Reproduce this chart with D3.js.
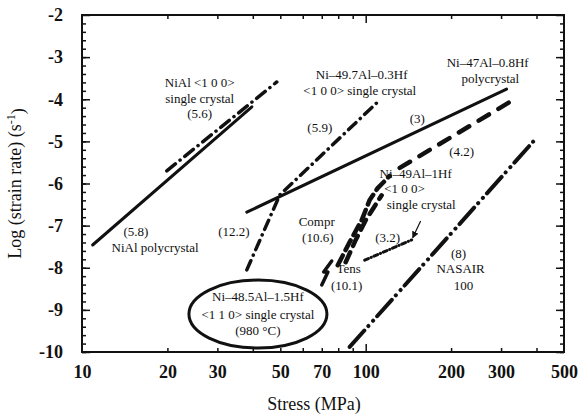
<!DOCTYPE html>
<html>
<head>
<meta charset="utf-8">
<script src="https://cdn.jsdelivr.net/npm/d3@7"></script>
<style>
  body { margin: 0; background: #fff; }
  svg text { fill: #111; }
</style>
</head>
<body>
<div id="chart"></div>
<script>
// tick values
var xTickLabels = [10, 20, 30, 50, 70, 100, 200, 300, 500];
var xMinorTicks = [20, 30, 40, 50, 60, 70, 80, 90, 200, 300, 400];
var xMajorTicks = [100];
var yTickLabels = [-2, -3, -4, -5, -6, -7, -8, -9, -10];

// series: [stress MPa, log strain rate]
var niAlPoly = [[10.9, -7.46], [39.7, -4.18]];
var niAlSingle = [[19.9, -5.70], [48.6, -3.59]];
var ni497Al = [[38.1, -8.05], [49.8, -6.27], [112, -4.02]];
var ni47AlPoly = [[38.1, -6.68], [313.7, -3.76]];
var ni49ComprA = [[79.7, -7.94], [87.8, -7.39], [96.8, -6.87], [103.3, -6.39], [110.2, -6.11], [121.5, -5.82]];
var ni49ComprB = [[85.0, -7.87], [92.2, -7.34], [100, -6.87], [113.8, -6.28]];
var ni49Compr42 = [[131.8, -5.63], [340, -3.97]];
var ni49Tens = [[70.0, -8.41], [73.6, -8.10], [71.1, -8.10], [75.9, -7.84]];
var ni49Single32 = [[99.2, -7.82], [145.2, -7.34]];
var nasair = [[87.8, -9.88], [393.6, -4.97]];

// labels: [stress, log rate, text]
var labels = [
  [26.0, -3.59, "NiAl <1 0 0>"],
  [26.0, -3.97, "single crystal"],
  [26.0, -4.33, "(5.6)"],
  [96.8, -3.40, "Ni\u201349.7Al\u20130.3Hf"],
  [95.3, -3.80, "<1 0 0> single crystal"],
  [68.9, -4.68, "(5.9)"],
  [269, -3.12, "Ni\u201347Al\u20130.8Hf"],
  [275, -3.50, "polycrystal"],
  [152, -4.45, "(3)"],
  [218, -5.25, "(4.2)"],
  [150, -5.75, "Ni\u201349Al\u20131Hf"],
  [137, -6.11, "<1 0 0>"],
  [157, -6.49, "single crystal"],
  [119.5, -7.27, "(3.2)"],
  [67.2, -6.91, "Compr"],
  [67.8, -7.29, "(10.6)"],
  [87.1, -8.01, "Tens"],
  [85.7, -8.41, "(10.1)"],
  [34.3, -7.15, "(12.2)"],
  [15.5, -7.15, "(5.8)"],
  [18.1, -7.51, "NiAl polycrystal"],
  [212.6, -7.65, "(8)"],
  [216, -8.01, "NASAIR"],
  [221, -8.41, "100"],
  [41.7, -8.69, "Ni\u201348.5Al\u20131.5Hf"],
  [41.7, -9.10, "<1 1 0> single crystal"],
  [41.7, -9.48, "(980 \u00B0C)"]
];
var ovalCenter = [41.7, -9.10];
var arrowPts = [[156.2, -6.89], [146.4, -7.29]];

var serif = "'Liberation Serif', 'Times New Roman', Tinos, 'DejaVu Serif', 'Noto Serif', FreeSerif, Times, serif";

var margin = {top: 15, right: 18, bottom: 64, left: 82};
var width = 582 - margin.left - margin.right;
var height = 416 - margin.top - margin.bottom;

var x = d3.scaleLog().domain([10, 500]).range([0, width]);
var y = d3.scaleLinear().domain([-10, -2]).range([height, 0]);

var root = d3.select("#chart").append("svg")
    .attr("width", 582)
    .attr("height", 416)
    .style("font-family", serif);

var svg = root.append("g")
    .attr("transform", "translate(" + margin.left + "," + margin.top + ")");

svg.append("defs").append("marker")
    .attr("id", "arr")
    .attr("viewBox", "0 0 10 10")
    .attr("refX", 9).attr("refY", 5)
    .attr("markerWidth", 7).attr("markerHeight", 7)
    .attr("markerUnits", "userSpaceOnUse")
    .attr("orient", "auto")
  .append("path")
    .attr("d", "M0,0 L10,5 L0,10 z")
    .attr("fill", "#111");

function cleanAxis(g) {
  g.select(".domain").remove();
  g.attr("font-family", null);
  g.selectAll(".tick line").attr("stroke", "#111").attr("stroke-width", 1.5);
}

var yMinor = d3.range(-10, -2, 0.2);

// tick marks pointing in on all four sides
svg.append("g").attr("transform", "translate(0," + height + ")")
    .call(d3.axisBottom(x).tickValues(xMinorTicks).tickSize(-4).tickFormat(""))
    .call(cleanAxis);
svg.append("g").attr("transform", "translate(0," + height + ")")
    .call(d3.axisBottom(x).tickValues(xMajorTicks).tickSize(-8).tickFormat(""))
    .call(cleanAxis);
svg.append("g")
    .call(d3.axisTop(x).tickValues(xMinorTicks).tickSize(-4).tickFormat(""))
    .call(cleanAxis);
svg.append("g")
    .call(d3.axisTop(x).tickValues(xMajorTicks).tickSize(-8).tickFormat(""))
    .call(cleanAxis);
svg.append("g")
    .call(d3.axisLeft(y).tickValues(yMinor).tickSize(-4).tickFormat(""))
    .call(cleanAxis);
svg.append("g")
    .call(d3.axisLeft(y).tickValues(yTickLabels).tickSize(-8).tickFormat(""))
    .call(cleanAxis);
svg.append("g").attr("transform", "translate(" + width + ",0)")
    .call(d3.axisRight(y).tickValues(yMinor).tickSize(-4).tickFormat(""))
    .call(cleanAxis);
svg.append("g").attr("transform", "translate(" + width + ",0)")
    .call(d3.axisRight(y).tickValues(yTickLabels).tickSize(-8).tickFormat(""))
    .call(cleanAxis);

// tick labels
var xLab = svg.append("g").attr("transform", "translate(0," + height + ")")
    .call(d3.axisBottom(x).tickValues(xTickLabels).tickSize(0).tickPadding(13).tickFormat(d3.format("d")))
    .call(cleanAxis);
xLab.selectAll("text").style("font-size", "18px").style("font-weight", "bold");

var yLab = svg.append("g")
    .call(d3.axisLeft(y).tickValues(yTickLabels).tickSize(0).tickPadding(19).tickFormat(function(d) { return "-" + Math.abs(d); }))
    .call(cleanAxis);
yLab.selectAll("text").style("font-size", "18px").style("font-weight", "bold");

// frame
svg.append("rect")
    .attr("width", width).attr("height", height)
    .attr("fill", "none").attr("stroke", "#111").attr("stroke-width", 2);

var line = d3.line()
    .x(function(d) { return x(d[0]); })
    .y(function(d) { return y(d[1]); });

function drawLine(data, sw, dash) {
  svg.append("path")
      .datum(data)
      .attr("fill", "none")
      .attr("stroke", "#111")
      .attr("stroke-width", sw)
      .attr("stroke-linecap", "round")
      .attr("stroke-linejoin", "round")
      .attr("stroke-dasharray", dash)
      .attr("d", line);
}

drawLine(niAlPoly, 3, null);
drawLine(niAlSingle, 3.5, "11,6,0.1,6");
drawLine(ni497Al, 3.5, "10,6,0.1,6");
drawLine(ni47AlPoly, 3, null);
drawLine(ni49ComprA, 4.5, "11,6");
drawLine(ni49ComprB, 4.5, "11,7");
drawLine(ni49Compr42, 4.5, "12,11");
drawLine(ni49Tens, 3.5, null);
drawLine(ni49Single32, 3, "4,3,0.1,3");
drawLine(nasair, 4, "22,6,0.1,7,0.1,6");

// arrow to (3.2) curve
svg.append("path")
    .datum(arrowPts)
    .attr("fill", "none")
    .attr("stroke", "#111")
    .attr("stroke-width", 1.2)
    .attr("marker-end", "url(#arr)")
    .attr("d", line);

// oval around the condition note
svg.append("ellipse")
    .attr("cx", x(ovalCenter[0]))
    .attr("cy", y(ovalCenter[1]))
    .attr("rx", 69).attr("ry", 34)
    .attr("fill", "none").attr("stroke", "#111").attr("stroke-width", 3);

svg.selectAll(".lbl")
    .data(labels)
    .enter().append("text")
    .attr("class", "lbl")
    .attr("x", function(d) { return x(d[0]); })
    .attr("y", function(d) { return y(d[1]); })
    .attr("dy", "0.35em")
    .style("text-anchor", "middle")
    .style("font-size", "13px")
    .text(function(d) { return d[2]; });

// axis titles
svg.append("text")
    .attr("transform", "translate(" + (width / 2 - 9) + "," + (height + 58) + ")")
    .style("text-anchor", "middle")
    .style("font-size", "18px")
    .text("Stress (MPa)");

var yt = svg.append("text")
    .attr("transform", "translate(" + (-61) + "," + (height / 2) + ") rotate(-90)")
    .style("text-anchor", "middle")
    .style("font-size", "18px");
yt.append("tspan").text("Log (strain rate) (s");
yt.append("tspan").attr("dy", "-0.5em").style("font-size", "12px").text("-1");
yt.append("tspan").attr("dy", "0.5em").text(")");

// make every text use the serif stack
root.selectAll("text").style("font-family", serif);
</script>
</body>
</html>
